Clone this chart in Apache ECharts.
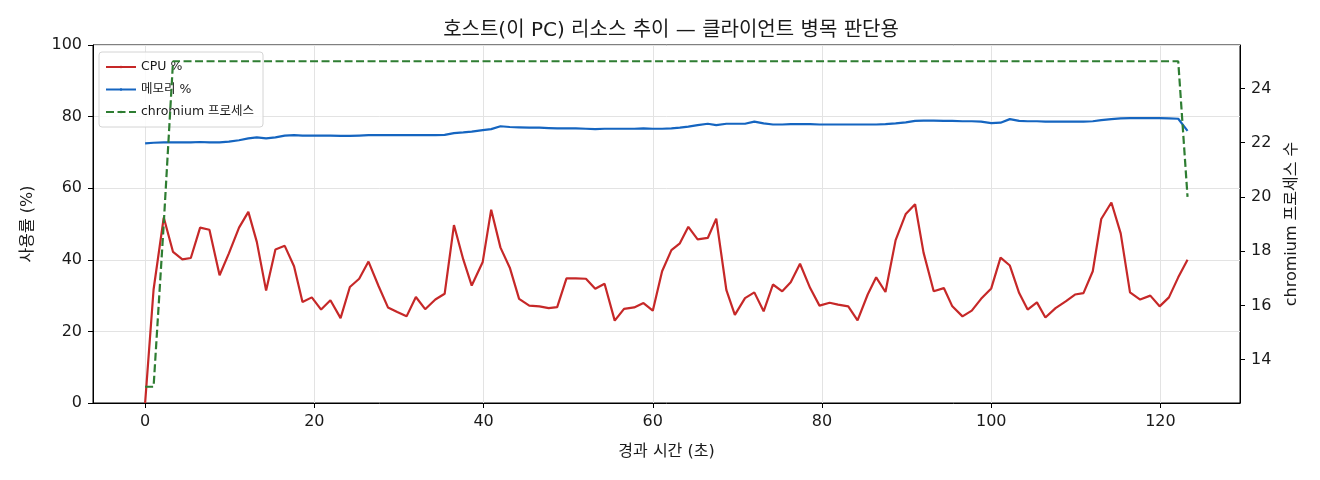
<!DOCTYPE html>
<html>
<head>
<meta charset="utf-8">
<script src="https://cdn.jsdelivr.net/npm/echarts@6/dist/echarts.min.js"></script>
<style>
    html, body { margin: 0; padding: 0; background: #fff; }
    #chart { width: 1320px; height: 480px; }
</style>
</head>
<body>
<div id="chart"></div>
<script>
// 경과 시간 (초)
var elapsed = [
    0, 1.0, 2.2, 3.3, 4.4, 5.4, 6.5, 7.6, 8.8, 9.9,
    11.1, 12.2, 13.2, 14.3, 15.4, 16.5, 17.6, 18.6, 19.7, 20.8,
    21.9, 23.1, 24.2, 25.3, 26.4, 27.6, 28.7, 29.8, 30.9, 32.0,
    33.1, 34.3, 35.4, 36.5, 37.6, 38.6, 39.9, 40.9, 42.0, 43.1,
    44.2, 45.4, 46.6, 47.7, 48.7, 49.8, 50.9, 52.1, 53.2, 54.3,
    55.5, 56.6, 57.8, 58.9, 60.0, 61.1, 62.2, 63.2, 64.2, 65.3,
    66.5, 67.5, 68.7, 69.7, 70.9, 72.0, 73.1, 74.2, 75.3, 76.3,
    77.4, 78.6, 79.7, 80.9, 81.9, 83.1, 84.2, 85.4, 86.4, 87.5,
    88.7, 89.9, 91.0, 92.0, 93.2, 94.4, 95.4, 96.6, 97.7, 98.8,
    100.0, 101.1, 102.2, 103.3, 104.3, 105.4, 106.4, 107.6, 108.8, 109.9,
    110.9, 112.0, 113.0, 114.2, 115.3, 116.4, 117.6, 118.8, 119.9, 121.0,
    122.1, 123.2
];

// CPU %
var cpuPct = [
    0, 31.7, 51.8, 42.2, 40.1, 40.5, 49.0, 48.4, 35.7, 41.8,
    49.0, 53.4, 45.0, 31.4, 42.9, 43.9, 38.2, 28.2, 29.5, 26.1,
    28.7, 23.7, 32.4, 34.7, 39.5, 32.6, 26.7, 25.4, 24.2, 29.6,
    26.2, 28.9, 30.5, 49.7, 40.1, 32.8, 39.4, 54.0, 43.4, 37.8,
    29.1, 27.2, 27.0, 26.5, 26.8, 34.8, 34.8, 34.7, 31.9, 33.3,
    23.0, 26.3, 26.7, 27.9, 25.8, 36.8, 42.7, 44.6, 49.2, 45.7,
    46.1, 51.5, 31.5, 24.6, 29.3, 30.9, 25.6, 33.1, 31.2, 33.7,
    38.9, 32.1, 27.2, 28.0, 27.5, 27.0, 23.1, 30.3, 35.1, 31.0,
    45.5, 52.8, 55.5, 42.0, 31.2, 32.1, 27.0, 24.2, 25.8, 29.1,
    32.0, 40.6, 38.4, 30.7, 26.1, 28.1, 23.9, 26.5, 28.4, 30.3,
    30.7, 36.8, 51.4, 56.0, 47.4, 30.9, 28.9, 30.0, 27.0, 29.5,
    35.1, 40.0
];

// 메모리 %
var memPct = [
    72.5, 72.7, 72.8, 72.8, 72.8, 72.8, 72.9, 72.8, 72.8, 73.0,
    73.4, 73.9, 74.2, 73.9, 74.2, 74.7, 74.8, 74.7, 74.7, 74.7,
    74.7, 74.6, 74.6, 74.7, 74.8, 74.8, 74.8, 74.8, 74.8, 74.8,
    74.8, 74.8, 74.9, 75.4, 75.6, 75.8, 76.2, 76.5, 77.3, 77.1,
    77.0, 76.9, 76.9, 76.8, 76.7, 76.7, 76.7, 76.6, 76.5, 76.6,
    76.6, 76.6, 76.6, 76.7, 76.6, 76.6, 76.7, 76.9, 77.2, 77.6,
    78.0, 77.6, 78.0, 78.0, 78.0, 78.6, 78.1, 77.8, 77.8, 77.9,
    77.9, 77.9, 77.8, 77.8, 77.8, 77.8, 77.8, 77.8, 77.8, 77.9,
    78.1, 78.4, 78.8, 78.9, 78.9, 78.8, 78.8, 78.7, 78.7, 78.6,
    78.2, 78.3, 79.3, 78.8, 78.7, 78.7, 78.6, 78.6, 78.6, 78.6,
    78.6, 78.7, 79.0, 79.3, 79.5, 79.6, 79.6, 79.6, 79.6, 79.5,
    79.4, 76.0
];

// chromium 프로세스 수
var chromiumCount = [
    13, 13, 19, 25, 25, 25, 25, 25, 25, 25,
    25, 25, 25, 25, 25, 25, 25, 25, 25, 25,
    25, 25, 25, 25, 25, 25, 25, 25, 25, 25,
    25, 25, 25, 25, 25, 25, 25, 25, 25, 25,
    25, 25, 25, 25, 25, 25, 25, 25, 25, 25,
    25, 25, 25, 25, 25, 25, 25, 25, 25, 25,
    25, 25, 25, 25, 25, 25, 25, 25, 25, 25,
    25, 25, 25, 25, 25, 25, 25, 25, 25, 25,
    25, 25, 25, 25, 25, 25, 25, 25, 25, 25,
    25, 25, 25, 25, 25, 25, 25, 25, 25, 25,
    25, 25, 25, 25, 25, 25, 25, 25, 25, 25,
    25, 20
];

function pairs(ys) {
    return ys.map(function (y, i) { return [elapsed[i], y]; });
}

var font = '"DejaVu Sans", "Noto Sans CJK KR", sans-serif';
var textColor = '#1a1a1a';
var chart = echarts.init(document.getElementById('chart'));

var option = {
    backgroundColor: '#fff',
    textStyle: { fontFamily: font },
    animation: false,
    title: {
        text: '호스트(이 PC) 리소스 추이 — 클라이언트 병목 판단용',
        left: 666,
        top: 16,
        textAlign: 'center',
        textStyle: { fontFamily: font, fontSize: 20, fontWeight: 'normal', color: textColor }
    },
    legend: {
        orient: 'vertical',
        left: 99,
        top: 52,
        padding: [8, 9, 8, 6],
        itemWidth: 30,
        itemHeight: 3,
        itemGap: 8.5,
        backgroundColor: 'rgba(255,255,255,0.85)',
        borderColor: '#d4d4d4',
        borderWidth: 1,
        borderRadius: 3,
        textStyle: { fontFamily: font, fontSize: 12.5, lineHeight: 14, color: textColor },
        data: ['CPU %', '메모리 %', 'chromium 프로세스']
    },
    grid: {
        left: 93,
        right: 80,
        top: 45,
        bottom: 77,
        show: true,
        borderColor: '#000',
        borderWidth: 1
    },
    xAxis: {
        type: 'value',
        min: -6.16,
        max: 129.4,
        splitNumber: 7,
        name: '경과 시간 (초)',
        nameLocation: 'middle',
        nameGap: 41,
        nameTextStyle: { fontFamily: font, fontSize: 16, color: textColor },
        axisLine: { show: true, onZero: false, lineStyle: { color: '#000', width: 1 } },
        axisTick: { show: true, length: 5, lineStyle: { color: '#000' } },
        axisLabel: { showMinLabel: false, showMaxLabel: false, fontFamily: font, fontSize: 16, color: textColor, margin: 11 },
        splitLine: { show: true, lineStyle: { color: '#e3e3e3', width: 1 } }
    },
    yAxis: [
        {
            type: 'value',
            min: 0,
            max: 100,
            interval: 20,
            name: '사용률 (%)',
            nameLocation: 'middle',
            nameGap: 57,
            nameTextStyle: { fontFamily: font, fontSize: 16, color: textColor },
            axisLine: { show: true, onZero: false, lineStyle: { color: '#000', width: 1 } },
            axisTick: { show: true, length: 5, lineStyle: { color: '#000' } },
            axisLabel: { fontFamily: font, fontSize: 16, color: textColor, margin: 11 },
            splitLine: { show: true, lineStyle: { color: '#e3e3e3', width: 1 } }
        },
        {
            type: 'value',
            position: 'right',
            min: 12.4,
            max: 25.6,
            splitNumber: 7,
            name: 'chromium 프로세스 수',
            nameLocation: 'middle',
            nameRotate: 90,
            nameGap: 44,
            nameTextStyle: { fontFamily: font, fontSize: 16, color: textColor },
            axisLine: { show: true, onZero: false, lineStyle: { color: '#000', width: 1 } },
            axisTick: { show: true, length: 5, lineStyle: { color: '#000' } },
            axisLabel: { showMinLabel: false, showMaxLabel: false, fontFamily: font, fontSize: 16, color: textColor, margin: 11 },
            splitLine: { show: false }
        }
    ],
    series: [
        {
            name: 'CPU %',
            type: 'line',
            yAxisIndex: 0,
            symbol: 'none',
            data: pairs(cpuPct),
            lineStyle: { color: '#c62828', width: 2.2 },
            itemStyle: { color: '#c62828' },
            z: 3
        },
        {
            name: '메모리 %',
            type: 'line',
            yAxisIndex: 0,
            symbol: 'none',
            data: pairs(memPct),
            lineStyle: { color: '#1565c0', width: 2.2 },
            itemStyle: { color: '#1565c0' },
            z: 3
        },
        {
            name: 'chromium 프로세스',
            type: 'line',
            yAxisIndex: 1,
            symbol: 'none',
            data: pairs(chromiumCount),
            lineStyle: { color: '#2e7d32', width: 2.2, type: [8, 3.5] },
            itemStyle: { color: '#2e7d32' },
            z: 4
        }
    ]
};

chart.setOption(option);
</script>
</body>
</html>
